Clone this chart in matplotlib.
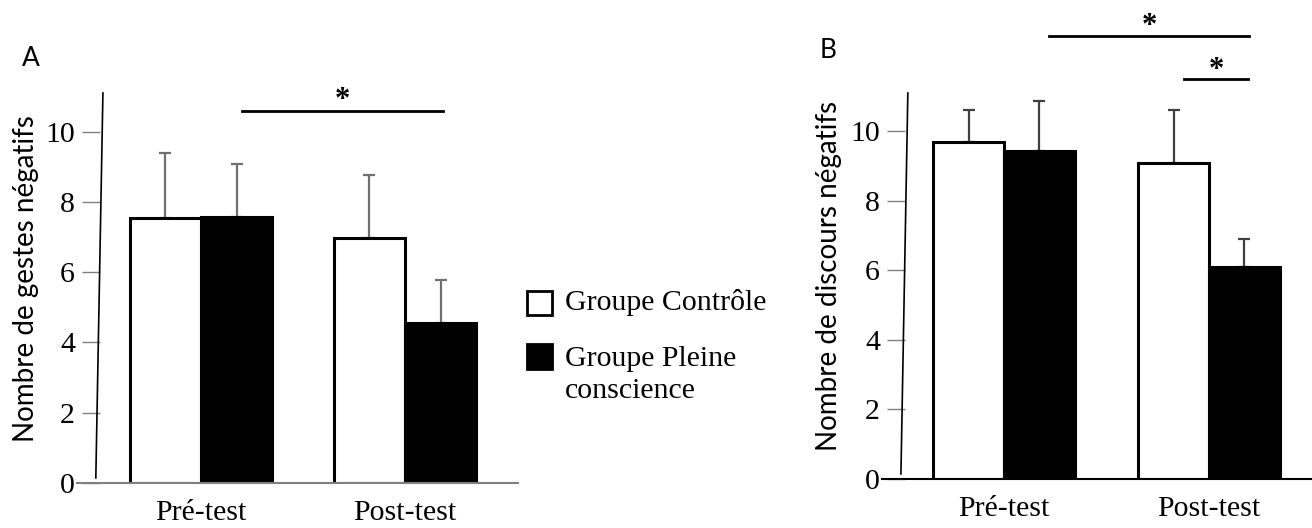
import numpy as np
import matplotlib
matplotlib.use('Agg')
from matplotlib import pyplot as plt
from matplotlib.patches import Rectangle

# Data
groups = ['Pré-test', 'Post-test']
legend_labels = ['Groupe Contrôle', 'Groupe Pleine\nconscience']

gestes_controle = [7.55, 6.98]
gestes_controle_err = [1.85, 1.79]
gestes_pleine = [7.58, 4.56]
gestes_pleine_err = [1.51, 1.22]

discours_controle = [9.68, 9.10]
discours_controle_err = [0.92, 1.50]
discours_pleine = [9.43, 6.09]
discours_pleine_err = [1.44, 0.81]

W, H = 1312, 528
fig = plt.figure(figsize=(W / 100, H / 100), dpi=100)

serif = 'Liberation Serif'
sans = 'Lato'
fs = 21.5


def px_axes(left, right, bottom, top):
    return fig.add_axes([left / W, 1 - bottom / H, (right - left) / W, (bottom - top) / H])


def draw_panel(ax, ctrl, ctrl_err, plein, plein_err, ylabel, xlim, width, err_color, base_color, label_x):
    x = np.arange(len(groups))
    ax.bar(x - width / 2, ctrl, width, color='white', edgecolor='black', linewidth=2.2, zorder=3)
    ax.bar(x + width / 2, plein, width, color='black', edgecolor='black', linewidth=2.2, zorder=3)
    # upper error bars only
    ax.errorbar(x - width / 2, ctrl, yerr=[np.zeros(2), ctrl_err], fmt='none',
                ecolor=err_color, elinewidth=1.6, capsize=4, capthick=1.6, zorder=2)
    ax.errorbar(x + width / 2, plein, yerr=[np.zeros(2), plein_err], fmt='none',
                ecolor=err_color, elinewidth=1.6, capsize=4, capthick=1.6, zorder=2)
    ax.set_xlim(*xlim)
    ax.set_ylim(0, 11.1)
    ax.set_yticks([0, 2, 4, 6, 8, 10])
    ax.set_xticks(x)
    ax.set_xticklabels(groups, fontfamily=serif, fontsize=fs)
    for lab in ax.get_yticklabels():
        lab.set_fontfamily(serif)
        lab.set_fontsize(fs)
    ax.tick_params(axis='y', direction='out', length=13, width=1, color='#808080', pad=5)
    ax.tick_params(axis='x', length=0, pad=12)
    for s in ax.spines.values():
        s.set_visible(False)
    # slanted y axis line and x baseline
    ax.plot([-0.01, 0.007], [0.013, 1.0], transform=ax.transAxes, color='black',
            linewidth=1.2, clip_on=False)
    ax.plot([-0.056, 1.0], [0, 0], transform=ax.transAxes, color=base_color,
            linewidth=1.5, clip_on=False, zorder=4)
    ax.set_ylabel(ylabel, fontfamily=sans, fontsize=20)
    ax.yaxis.set_label_coords(label_x, 0.525)
    ax.patch.set_alpha(0)


def sig(ax, x0, x1, y, star_y):
    ax.plot([x0, x1], [y, y], color='black', linewidth=2, clip_on=False)
    ax.text((x0 + x1) / 2, star_y, '*', ha='center', va='center', fontsize=22,
            fontfamily=serif, fontweight='bold')


# Panel A
axA = px_axes(100, 518, 483, 93)
draw_panel(axA, gestes_controle, gestes_controle_err, gestes_pleine, gestes_pleine_err,
           'Nombre de gestes négatifs', (-0.495, 1.554), 0.35, '#707070', '#808080', -0.145)
sig(axA, 0.2, 1.185, 10.6, 10.9)

# Panel B
axB = px_axes(905, 1312, 479, 93)
draw_panel(axB, discours_controle, discours_controle_err, discours_pleine, discours_pleine_err,
           'Nombre de discours négatifs', (-0.483, 1.502), 0.345, '#404040', 'black', -0.155)
sig(axB, 0.22, 1.195, 12.73, 13.0)
sig(axB, 0.88, 1.19, 11.49, 11.76)

# Panel letters
fig.text(22 / W, 1 - 58 / H, 'A', fontfamily=sans, fontsize=19, ha='left', va='center')
fig.text(820 / W, 1 - 50 / H, 'B', fontfamily=sans, fontsize=19, ha='left', va='center')

# Legend
fig.patches.append(Rectangle((527 / W, 1 - 315 / H), 25 / W, 24 / H, transform=fig.transFigure,
                             facecolor='white', edgecolor='black', linewidth=2))
fig.patches.append(Rectangle((527 / W, 1 - 369 / H), 25 / W, 25 / H, transform=fig.transFigure,
                             facecolor='black', edgecolor='black', linewidth=2))
fig.text(565 / W, 1 - 303 / H, legend_labels[0], fontfamily=serif, fontsize=fs,
         ha='left', va='center')
fig.text(565 / W, 1 - 375 / H, legend_labels[1], fontfamily=serif, fontsize=fs,
         ha='left', va='center', linespacing=1.3)

fig.savefig('out.png', dpi=100)
